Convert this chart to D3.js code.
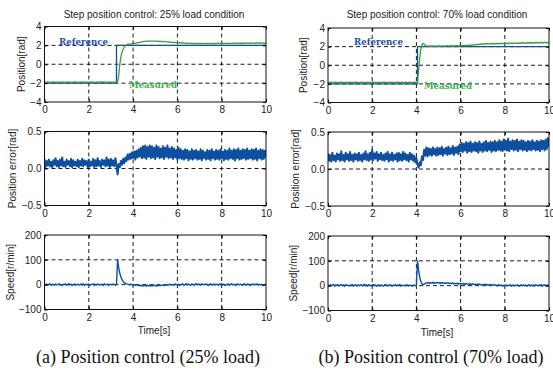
<!DOCTYPE html>
<html>
<head>
<meta charset="utf-8">
<title>Step position control</title>
<script src="https://cdn.jsdelivr.net/npm/d3@7"></script>
<style>
    body { margin: 0; background: #fff; }
    svg { display: block; }
    .tick text, .axis-title, .panel-title {
        font-family: "Liberation Sans", Arial, sans-serif;
        font-size: 10px;
        fill: #222;
    }
    .caption {
        font-family: "Liberation Serif", "Times New Roman", serif;
        font-size: 18px;
        fill: #111;
    }
    .legend-text {
        font-family: "DejaVu Serif", serif;
        font-weight: bold;
        font-size: 10px;
    }
</style>
</head>
<body>
<script>
    // sampling of the measured traces (seconds)
    var timeStep = 0.05;
    var xTicks = [0, 2, 4, 6, 8, 10];
    var xGrid = [2, 4, 6, 8];

    // (a) 25% load
    var refTimesA = [0, 3.25, 3.25, 10];
    var refValuesA = [-2, -2, 2, 2];
    var posMeasA = [
        -1.92,-1.88,-1.91,-1.87,-1.93,-1.89,-1.90,-1.86,-1.92,-1.88,
        -1.91,-1.87,-1.93,-1.89,-1.90,-1.88,-1.92,-1.86,-1.91,-1.89,
        -1.90,-1.87,-1.93,-1.88,-1.91,-1.89,-1.92,-1.87,-1.90,-1.88,
        -1.93,-1.89,-1.91,-1.86,-1.92,-1.88,-1.90,-1.87,-1.91,-1.89,
        -1.92,-1.88,-1.90,-1.87,-1.93,-1.89,-1.91,-1.88,-1.92,-1.86,
        -1.90,-1.88,-1.91,-1.87,-1.92,-1.89,-1.90,-1.88,-1.93,-1.87,
        -1.91,-1.89,-1.92,-1.88,-1.90,-1.89,
        -1.85,-1.20,0.00,0.80,1.30,1.60,1.80,1.95,2.05,2.10,
        2.12,2.14,2.15,2.17,2.18,2.20,2.22,2.25,2.28,2.30,
        2.33,2.36,2.38,2.40,2.42,2.43,2.44,2.45,2.45,2.46,
        2.46,2.45,2.46,2.44,2.45,2.44,2.43,2.44,2.42,2.43,
        2.41,2.40,2.41,2.39,2.38,2.37,2.36,2.35,2.34,2.33,
        2.32,2.30,2.31,2.29,2.28,2.27,2.28,2.26,2.25,2.26,
        2.24,2.23,2.25,2.22,2.23,2.21,2.22,2.20,2.22,2.21,
        2.20,2.22,2.19,2.21,2.20,2.18,2.21,2.19,2.20,2.22,
        2.19,2.21,2.18,2.20,2.22,2.19,2.21,2.20,2.18,2.21,
        2.20,2.23,2.19,2.21,2.24,2.20,2.22,2.19,2.23,2.21,
        2.20,2.24,2.21,2.19,2.23,2.20,2.25,2.21,2.22,2.26,
        2.21,2.24,2.20,2.26,2.22,2.25,2.21,2.27,2.23,2.25,
        2.22,2.27,2.23,2.25,2.21,2.28,2.24,2.26,2.22,2.27,
        2.23,2.26,2.22,2.25,2.24
    ];
    var errA = [
        0.13,0.02,0.10,0.04,0.12,0.03,0.09,0.01,0.11,0.05,
        0.14,0.03,0.10,0.02,0.12,0.04,0.15,0.03,0.09,0.02,
        0.12,0.05,0.10,0.03,0.13,0.02,0.11,0.04,0.09,0.03,
        0.12,0.02,0.10,0.04,0.13,0.03,0.11,0.05,0.10,0.02,
        0.12,0.03,0.09,0.04,0.13,0.02,0.11,0.03,0.14,0.04,
        0.10,0.02,0.12,0.05,0.11,0.03,0.15,0.04,0.12,0.02,
        0.13,0.04,0.11,0.03,0.14,0.05,
        -0.08,0.06,0.02,0.10,0.05,0.13,0.07,0.15,0.10,0.19,
        0.12,0.20,0.13,0.22,0.14,0.23,0.12,0.24,0.15,0.26,
        0.16,0.28,0.14,0.30,0.15,0.31,0.13,0.29,0.16,0.31,
        0.14,0.30,0.15,0.28,0.13,0.31,0.16,0.29,0.14,0.27,
        0.15,0.30,0.13,0.28,0.16,0.31,0.14,0.27,0.15,0.29,
        0.13,0.27,0.15,0.25,0.12,0.28,0.14,0.26,0.13,0.24,
        0.12,0.26,0.14,0.25,0.11,0.23,0.13,0.26,0.12,0.24,
        0.14,0.25,0.12,0.23,0.13,0.26,0.11,0.24,0.14,0.22,
        0.12,0.25,0.13,0.24,0.11,0.26,0.14,0.23,0.12,0.25,
        0.13,0.24,0.12,0.26,0.14,0.23,0.11,0.25,0.13,0.24,
        0.12,0.27,0.14,0.24,0.13,0.26,0.11,0.25,0.14,0.27,
        0.12,0.24,0.13,0.26,0.14,0.25,0.12,0.27,0.13,0.24,
        0.14,0.26,0.12,0.25,0.13,0.27,0.11,0.24,0.14,0.26,
        0.12,0.25,0.13,0.24,0.15
    ];
    var speedA = [
        2,-1,3,-2,1,4,-3,0,2,-2,
        3,-1,0,4,-2,1,-3,2,0,3,
        -2,1,4,-1,2,-3,0,3,-2,1,
        2,-2,0,3,-1,4,-3,1,2,-1,
        3,-2,1,0,4,-3,2,-1,3,0,
        -2,2,1,-3,4,0,-1,3,-2,2,
        1,-1,3,0,-2,2,
        100,68,46,31,20,13,8,5,3,2,
        1,-1,2,0,-2,1,-3,0,-2,-4,
        -3,-5,-2,-6,-4,-3,-6,-2,-5,-4,
        -6,-3,-5,-2,-4,-6,-3,-5,-2,-4,
        -3,-1,-4,-2,0,-3,-1,2,-2,0,
        1,-2,3,0,-1,2,-3,1,0,3,
        -2,1,4,-1,2,0,-3,3,1,-2,
        2,4,-1,3,0,-2,4,1,-1,3,
        0,2,-3,1,4,-2,0,3,-1,2,
        1,-2,3,0,4,-1,2,-3,1,0,
        3,-2,1,4,-1,0,2,-3,3,1,
        -1,2,0,-3,4,1,-2,3,0,2,
        -3,1,3,-1,2,0,4,-2,1,-1,
        2,-3,0,1,-1
    ];

    // (b) 70% load
    var refTimesB = [0, 4.05, 4.05, 10];
    var refValuesB = [-2, -2, 2, 2];
    var posMeasB = [
        -1.83,-1.88,-1.81,-1.86,-1.82,-1.89,-1.84,-1.80,-1.87,-1.83,
        -1.88,-1.82,-1.85,-1.80,-1.87,-1.83,-1.89,-1.81,-1.86,-1.84,
        -1.80,-1.87,-1.83,-1.88,-1.82,-1.85,-1.81,-1.89,-1.84,-1.86,
        -1.82,-1.88,-1.80,-1.85,-1.83,-1.87,-1.81,-1.86,-1.84,-1.88,
        -1.82,-1.85,-1.80,-1.87,-1.83,-1.89,-1.81,-1.86,-1.84,-1.82,
        -1.87,-1.81,-1.85,-1.83,-1.88,-1.80,-1.86,-1.84,-1.82,-1.87,
        -1.83,-1.88,-1.81,-1.85,-1.80,-1.86,-1.84,-1.82,-1.87,-1.83,
        -1.85,-1.81,-1.88,-1.84,-1.82,-1.86,-1.83,-1.87,-1.81,-1.85,
        -1.84,
        -1.80,-0.50,0.80,1.70,2.20,2.35,2.28,2.15,2.08,2.06,
        2.05,2.08,2.04,2.07,2.05,2.09,2.04,2.06,2.08,2.05,
        2.07,2.04,2.08,2.06,2.09,2.05,2.07,2.10,2.06,2.08,
        2.07,2.10,2.06,2.09,2.08,2.11,2.07,2.10,2.09,2.12,
        2.10,2.13,2.09,2.14,2.11,2.15,2.12,2.16,2.14,2.18,
        2.16,2.20,2.18,2.23,2.20,2.26,2.22,2.28,2.24,2.30,
        2.26,2.32,2.27,2.35,2.28,2.33,2.26,2.36,2.29,2.34,
        2.27,2.37,2.30,2.35,2.28,2.38,2.31,2.36,2.29,2.39,
        2.32,2.37,2.30,2.40,2.33,2.38,2.31,2.41,2.34,2.39,
        2.32,2.42,2.35,2.40,2.33,2.43,2.36,2.41,2.34,2.44,
        2.37,2.42,2.35,2.45,2.38,2.43,2.36,2.46,2.39,2.44,
        2.37,2.47,2.40,2.45,2.38,2.48,2.41,2.46,2.39,2.45
    ];
    var errB = [
        0.21,0.11,0.19,0.10,0.22,0.12,0.18,0.10,0.21,0.13,
        0.20,0.11,0.24,0.12,0.19,0.10,0.22,0.13,0.20,0.11,
        0.23,0.12,0.19,0.10,0.21,0.13,0.20,0.11,0.22,0.12,
        0.19,0.10,0.21,0.13,0.24,0.12,0.20,0.11,0.22,0.13,
        0.26,0.12,0.21,0.14,0.23,0.11,0.20,0.13,0.22,0.12,
        0.19,0.11,0.21,0.13,0.23,0.10,0.20,0.12,0.22,0.11,
        0.19,0.13,0.21,0.10,0.22,0.12,0.20,0.11,0.23,0.13,
        0.21,0.12,0.19,0.10,0.22,0.13,0.20,0.11,0.18,0.09,
        0.15,0.06,0.02,0.09,0.05,0.17,0.12,0.26,0.18,0.29,
        0.17,0.28,0.19,0.27,0.18,0.29,0.20,0.27,0.18,0.29,
        0.19,0.28,0.20,0.30,0.18,0.27,0.21,0.29,0.19,0.30,
        0.20,0.28,0.21,0.31,0.19,0.29,0.22,0.30,0.20,0.33,
        0.24,0.35,0.23,0.34,0.25,0.36,0.22,0.35,0.24,0.37,
        0.23,0.34,0.25,0.36,0.24,0.35,0.22,0.37,0.25,0.34,
        0.23,0.36,0.25,0.38,0.24,0.35,0.26,0.37,0.23,0.36,
        0.25,0.38,0.24,0.36,0.26,0.39,0.25,0.37,0.24,0.40,
        0.26,0.38,0.25,0.41,0.24,0.37,0.27,0.39,0.25,0.38,
        0.26,0.40,0.24,0.37,0.27,0.39,0.25,0.38,0.26,0.36,
        0.24,0.38,0.26,0.37,0.25,0.39,0.27,0.36,0.25,0.38,
        0.26,0.37,0.24,0.39,0.27,0.38,0.25,0.40,0.27,0.42,
        0.30
    ];
    var speedB = [
        3,-1,4,0,2,5,-2,3,1,4,
        -1,2,5,0,3,-2,4,1,2,-1,
        3,0,5,-2,2,4,-1,3,0,2,
        4,-1,2,5,0,3,-2,4,1,-1,
        2,5,0,3,-2,1,4,-1,3,0,
        -2,2,5,1,-1,4,0,3,-2,2,
        1,4,-1,3,0,5,-2,2,1,-1,
        3,0,4,-1,2,1,-2,3,0,1,
        2,
        100,62,35,18,8,3,6,9,11,10,
        13,9,12,10,14,9,12,11,13,10,
        12,9,13,10,11,8,12,10,11,9,
        10,8,11,7,9,8,10,6,9,7,
        8,6,9,5,8,6,7,5,8,4,
        7,5,6,3,7,4,6,3,5,2,
        5,3,6,2,4,1,5,3,2,4,
        1,3,-1,4,2,0,3,-2,2,1,
        3,-1,2,0,4,-2,1,3,-1,2,
        0,3,-2,1,4,-1,2,0,3,-2,
        1,4,-1,2,0,3,-2,4,1,-1,
        3,0,5,-2,2,4,-1,3,1,2
    ];

    var posTicks = [-4, -2, 0, 2, 4], posGrid = [-2, 0, 2];
    var errTicks = [-0.5, 0, 0.5], errGrid = [0];
    var speedTicks = [-100, 0, 100, 200], speedGrid = [0, 100];

    var titles = ['Step position control: 25% load condition', 'Step position control: 70% load condition'];
    var captions = ['(a) Position control (25% load)', '(b) Position control (70% load)'];
    var yLabels = ['Position[rad]', 'Position error[rad]', 'Speed[r/min]'];

    var BLUE = '#0f4fa2', GREEN = '#3f9a3c';

    var svg = d3.select('body').append('svg')
        .attr('width', 553)
        .attr('height', 370);

    // layout of the two columns
    var cols = [
        {x0: 44.5, x1: 266, rows: [[26.5, 102], [131.5, 205.5], [235, 309.5]], ylabX: [21, 12, 10],
         titleX: 154, capX: 148, ref: [refTimesA, refValuesA], pos: posMeasA, err: errA, speed: speedA,
         refLab: [59, 45], measLab: [129, 88]},
        {x0: 328, x1: 549, rows: [[28, 102.5], [132, 206], [236, 310.5]], ylabX: [303, 295, 293],
         titleX: 437, capX: 431, ref: [refTimesB, refValuesB], pos: posMeasB, err: errB, speed: speedB,
         refLab: [354, 45], measLab: [424, 89]}
    ];

    var clipId = 0;

    function drawPanel(c, r, yDomain, yTicks, yGrid, series) {
        var top = c.rows[r][0], bottom = c.rows[r][1];
        var x = d3.scaleLinear().domain([0, 10]).range([c.x0, c.x1]);
        var y = d3.scaleLinear().domain(yDomain).range([bottom, top]);
        var g = svg.append('g');

        // grid
        g.selectAll('line.vgrid').data(xGrid).enter().append('line')
            .attr('x1', function (d) { return x(d); }).attr('x2', function (d) { return x(d); })
            .attr('y1', top).attr('y2', bottom)
            .attr('stroke', '#000').attr('stroke-width', 0.9).attr('stroke-dasharray', '4,3');
        g.selectAll('line.hgrid').data(yGrid).enter().append('line')
            .attr('x1', c.x0).attr('x2', c.x1)
            .attr('y1', function (d) { return y(d); }).attr('y2', function (d) { return y(d); })
            .attr('stroke', '#000').attr('stroke-width', 0.9).attr('stroke-dasharray', '4,3');

        // data
        clipId++;
        svg.append('clipPath').attr('id', 'clip' + clipId).append('rect')
            .attr('x', c.x0).attr('y', top).attr('width', c.x1 - c.x0).attr('height', bottom - top);
        var plot = g.append('g').attr('clip-path', 'url(#clip' + clipId + ')');
        series.forEach(function (s) {
            var line = d3.line()
                .x(function (d, i) { return x(s.t ? s.t[i] : i * timeStep); })
                .y(function (d) { return y(d); });
            plot.append('path').datum(s.v)
                .attr('d', line)
                .attr('fill', 'none')
                .attr('stroke', s.color)
                .attr('stroke-width', s.w || 1)
                .attr('stroke-linejoin', 'round');
        });

        // axes
        var bottomAxis = d3.axisBottom(x).tickValues(xTicks).tickSize(-3).tickPadding(4);
        var leftAxis = d3.axisLeft(y).tickValues(yTicks).tickSize(-3).tickPadding(3);
        var topAxis = d3.axisTop(x).tickValues(xTicks).tickSize(-3).tickFormat('');
        var rightAxis = d3.axisRight(y).tickValues(yTicks).tickSize(-3).tickFormat('');
        [[bottomAxis, 0, bottom], [leftAxis, c.x0, 0], [topAxis, 0, top], [rightAxis, c.x1, 0]].forEach(function (a) {
            var ax = g.append('g').attr('transform', 'translate(' + a[1] + ',' + a[2] + ')').call(a[0]);
            ax.select('.domain').remove();
            ax.selectAll('.tick line').attr('stroke', '#000');
            ax.selectAll('.tick text').attr('font-family', null).attr('font-size', null).attr('fill', null);
        });

        g.append('rect')
            .attr('x', c.x0).attr('y', top)
            .attr('width', c.x1 - c.x0).attr('height', bottom - top)
            .attr('fill', 'none').attr('stroke', '#111').attr('stroke-width', 1);

        g.append('text').attr('class', 'axis-title')
            .attr('transform', 'translate(' + c.ylabX[r] + ',' + ((top + bottom) / 2) + ') rotate(-90)')
            .attr('text-anchor', 'middle')
            .attr('dy', '0.35em')
            .text(yLabels[r]);
    }

    cols.forEach(function (c, k) {
        drawPanel(c, 0, [-4, 4], posTicks, posGrid, [
            {t: c.ref[0], v: c.ref[1], color: BLUE, w: 1.3},
            {v: c.pos, color: GREEN, w: 1.3}
        ]);
        drawPanel(c, 1, [-0.5, 0.5], errTicks, errGrid, [{v: c.err, color: BLUE, w: 2}]);
        drawPanel(c, 2, [-100, 200], speedTicks, speedGrid, [{v: c.speed, color: BLUE, w: 1.4}]);

        svg.append('text').attr('class', 'panel-title')
            .attr('x', c.titleX).attr('y', 18).attr('text-anchor', 'middle')
            .text(titles[k]);
        svg.append('text').attr('class', 'axis-title')
            .attr('x', c.titleX).attr('y', k === 0 ? 334 : 336).attr('text-anchor', 'middle')
            .text('Time[s]');
        svg.append('text').attr('class', 'caption')
            .attr('x', c.capX).attr('y', 363).attr('text-anchor', 'middle')
            .text(captions[k]);

        svg.append('text').attr('class', 'legend-text')
            .attr('x', c.refLab[0]).attr('y', c.refLab[1])
            .attr('fill', '#1a4fa8')
            .attr('textLength', 49).attr('lengthAdjust', 'spacingAndGlyphs')
            .text('Reference');
        svg.append('text').attr('class', 'legend-text')
            .attr('x', c.measLab[0]).attr('y', c.measLab[1])
            .attr('fill', '#3db34a')
            .attr('textLength', 48).attr('lengthAdjust', 'spacingAndGlyphs')
            .text('Measured');
    });
</script>
</body>
</html>
